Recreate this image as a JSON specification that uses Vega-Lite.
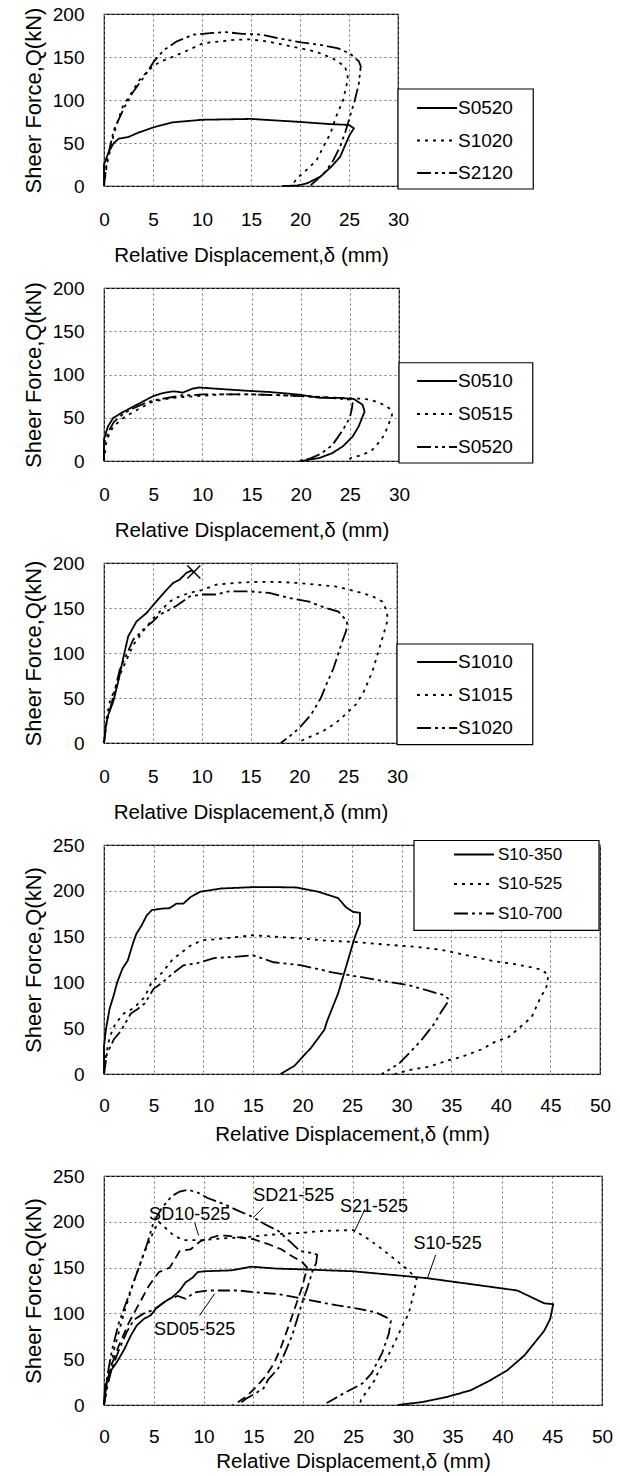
{
"$schema":"https://vega.github.io/schema/vega-lite/v6.json",
"background":"white",
"padding":{"left":21,"top":4,"right":5,"bottom":5},
"spacing":102,
"bounds":"flush",
"resolve":{"scale":{"strokeDash":"independent"},"legend":{"strokeDash":"independent"}},
"config":{
 "view":{"stroke":"#000","strokeWidth":1.2},
 "font":"Liberation Sans",
 "axis":{"grid":true,"gridColor":"#777","gridDash":[2,3],"gridWidth":1,"domain":false,"ticks":false,"tickSize":0,"labelFont":"Liberation Sans","labelFontSize":19,"labelColor":"#000","labelFlush":false,"titleFont":"Liberation Sans","titleFontWeight":"normal","titleColor":"#000"},
 "axisX":{"labelPadding":24,"titleFontSize":20.5,"titlePadding":16},
 "axisY":{"labelPadding":20,"titleFontSize":22,"titlePadding":7},
 "legend":{"orient":"none","title":null,"fillColor":"transparent","strokeColor":"transparent","padding":0,"symbolType":"stroke","symbolSize":1600,"symbolStrokeWidth":1.8,"symbolStrokeColor":"#000","labelFont":"Liberation Sans","labelFontSize":19,"labelColor":"#000","clipHeight":22,"rowPadding":10.5,"symbolOffset":0,"labelOffset":0}
},
"datasets":{
"p1box":[{"x":30,"x2":43.8,"y":-3.5,"y2":112.8}],
"p2box":[{"x":30,"x2":43.6,"y":-2.3,"y2":113.6}],
"p3box":[{"x":30,"x2":43.9,"y":-1.9,"y2":110}],
"p4box":[{"x":31.25,"x2":49.9,"y":156.7,"y2":254.9}],
"p1":[
{"s":"S0520","i":0,"x":0,"y":0},{"s":"S0520","i":1,"x":0,"y":25},{"s":"S0520","i":2,"x":0.5,"y":40},{"s":"S0520","i":3,"x":1,"y":50},{"s":"S0520","i":4,"x":1.5,"y":55},{"s":"S0520","i":5,"x":2.5,"y":57},{"s":"S0520","i":6,"x":3.5,"y":62},{"s":"S0520","i":7,"x":5,"y":68},{"s":"S0520","i":8,"x":7,"y":74},{"s":"S0520","i":9,"x":10,"y":77},{"s":"S0520","i":10,"x":15,"y":78},{"s":"S0520","i":11,"x":20,"y":74.5},{"s":"S0520","i":12,"x":23,"y":72},{"s":"S0520","i":13,"x":25,"y":71},{"s":"S0520","i":14,"x":25.5,"y":67},{"s":"S0520","i":15,"x":25.1,"y":60},{"s":"S0520","i":16,"x":24.7,"y":50},{"s":"S0520","i":17,"x":24.1,"y":34},{"s":"S0520","i":18,"x":23.2,"y":22.5},{"s":"S0520","i":19,"x":22.1,"y":11},{"s":"S0520","i":20,"x":20.7,"y":3},{"s":"S0520","i":21,"x":19.7,"y":0.5},{"s":"S0520","i":22,"x":18.2,"y":0},
{"s":"S1020","i":0,"x":0,"y":0},{"s":"S1020","i":1,"x":0.3,"y":25},{"s":"S1020","i":2,"x":0.7,"y":45},{"s":"S1020","i":3,"x":1,"y":60},{"s":"S1020","i":4,"x":1.4,"y":75},{"s":"S1020","i":5,"x":1.9,"y":92},{"s":"S1020","i":6,"x":2.9,"y":110},{"s":"S1020","i":7,"x":3.6,"y":123},{"s":"S1020","i":8,"x":4.4,"y":133},{"s":"S1020","i":9,"x":5.2,"y":141},{"s":"S1020","i":10,"x":6.1,"y":146},{"s":"S1020","i":11,"x":7.4,"y":152},{"s":"S1020","i":12,"x":8.6,"y":158},{"s":"S1020","i":13,"x":10.1,"y":166},{"s":"S1020","i":14,"x":11.7,"y":168},{"s":"S1020","i":15,"x":13.4,"y":170},{"s":"S1020","i":16,"x":14.9,"y":170.5},{"s":"S1020","i":17,"x":16.7,"y":168},{"s":"S1020","i":18,"x":18.4,"y":164},{"s":"S1020","i":19,"x":20.1,"y":160},{"s":"S1020","i":20,"x":21.7,"y":156},{"s":"S1020","i":21,"x":23.4,"y":148},{"s":"S1020","i":22,"x":24.6,"y":139},{"s":"S1020","i":23,"x":24.9,"y":125},{"s":"S1020","i":24,"x":24.4,"y":100},{"s":"S1020","i":25,"x":23.7,"y":81},{"s":"S1020","i":26,"x":23.1,"y":61},{"s":"S1020","i":27,"x":22.4,"y":46},{"s":"S1020","i":28,"x":21.7,"y":30},{"s":"S1020","i":29,"x":20.7,"y":19},{"s":"S1020","i":30,"x":19.7,"y":9},{"s":"S1020","i":31,"x":19.2,"y":1},{"s":"S1020","i":32,"x":19,"y":0},
{"s":"S2120","i":0,"x":0,"y":0},{"s":"S2120","i":1,"x":0.3,"y":30},{"s":"S2120","i":2,"x":0.7,"y":50},{"s":"S2120","i":3,"x":1,"y":65},{"s":"S2120","i":4,"x":2.1,"y":92},{"s":"S2120","i":5,"x":3,"y":110},{"s":"S2120","i":6,"x":4.1,"y":127},{"s":"S2120","i":7,"x":5.1,"y":145},{"s":"S2120","i":8,"x":6.1,"y":158},{"s":"S2120","i":9,"x":7.4,"y":168},{"s":"S2120","i":10,"x":9.1,"y":176},{"s":"S2120","i":11,"x":11.1,"y":178},{"s":"S2120","i":12,"x":12.4,"y":179},{"s":"S2120","i":13,"x":14.1,"y":177},{"s":"S2120","i":14,"x":16.1,"y":176},{"s":"S2120","i":15,"x":18.1,"y":171},{"s":"S2120","i":16,"x":20.1,"y":167},{"s":"S2120","i":17,"x":22.1,"y":164},{"s":"S2120","i":18,"x":23.9,"y":160},{"s":"S2120","i":19,"x":25.1,"y":154},{"s":"S2120","i":20,"x":26,"y":145},{"s":"S2120","i":21,"x":26.2,"y":139},{"s":"S2120","i":22,"x":26,"y":119},{"s":"S2120","i":23,"x":25.6,"y":100},{"s":"S2120","i":24,"x":25.1,"y":81},{"s":"S2120","i":25,"x":24.6,"y":62},{"s":"S2120","i":26,"x":24.1,"y":46},{"s":"S2120","i":27,"x":23.4,"y":30},{"s":"S2120","i":28,"x":22.7,"y":18},{"s":"S2120","i":29,"x":21.8,"y":8},{"s":"S2120","i":30,"x":21.2,"y":2},{"s":"S2120","i":31,"x":21,"y":0}
],
"p2":[
{"s":"S0510","i":0,"x":0,"y":0},{"s":"S0510","i":1,"x":0,"y":25},{"s":"S0510","i":2,"x":0.4,"y":40},{"s":"S0510","i":3,"x":0.95,"y":50},{"s":"S0510","i":4,"x":2,"y":57},{"s":"S0510","i":5,"x":3,"y":63},{"s":"S0510","i":6,"x":4,"y":69},{"s":"S0510","i":7,"x":5,"y":75},{"s":"S0510","i":8,"x":6,"y":78.6},{"s":"S0510","i":9,"x":7,"y":80.5},{"s":"S0510","i":10,"x":7.5,"y":80},{"s":"S0510","i":11,"x":8,"y":79},{"s":"S0510","i":12,"x":9,"y":83.6},{"s":"S0510","i":13,"x":9.7,"y":85},{"s":"S0510","i":14,"x":10.9,"y":84},{"s":"S0510","i":15,"x":12.8,"y":82.5},{"s":"S0510","i":16,"x":14.8,"y":81},{"s":"S0510","i":17,"x":16.8,"y":79.8},{"s":"S0510","i":18,"x":19.9,"y":76.7},{"s":"S0510","i":19,"x":21.9,"y":73},{"s":"S0510","i":20,"x":23.9,"y":73},{"s":"S0510","i":21,"x":25.4,"y":71.7},{"s":"S0510","i":22,"x":26.3,"y":65},{"s":"S0510","i":23,"x":26.5,"y":57},{"s":"S0510","i":24,"x":25.9,"y":40},{"s":"S0510","i":25,"x":25.3,"y":28.5},{"s":"S0510","i":26,"x":24.3,"y":17},{"s":"S0510","i":27,"x":23.2,"y":9},{"s":"S0510","i":28,"x":21.9,"y":3.5},{"s":"S0510","i":29,"x":20.5,"y":0.8},{"s":"S0510","i":30,"x":20,"y":0},
{"s":"S0515","i":0,"x":0,"y":0},{"s":"S0515","i":1,"x":0.2,"y":20},{"s":"S0515","i":2,"x":0.5,"y":30},{"s":"S0515","i":3,"x":0.95,"y":40},{"s":"S0515","i":4,"x":2,"y":50},{"s":"S0515","i":5,"x":3,"y":57},{"s":"S0515","i":6,"x":4,"y":63},{"s":"S0515","i":7,"x":5,"y":69},{"s":"S0515","i":8,"x":6,"y":71},{"s":"S0515","i":9,"x":7,"y":73},{"s":"S0515","i":10,"x":8,"y":74},{"s":"S0515","i":11,"x":10,"y":75.5},{"s":"S0515","i":12,"x":12,"y":77},{"s":"S0515","i":13,"x":15,"y":77},{"s":"S0515","i":14,"x":18,"y":76},{"s":"S0515","i":15,"x":20,"y":75},{"s":"S0515","i":16,"x":22,"y":74},{"s":"S0515","i":17,"x":24,"y":73},{"s":"S0515","i":18,"x":26,"y":72},{"s":"S0515","i":19,"x":27,"y":71},{"s":"S0515","i":20,"x":28.1,"y":67},{"s":"S0515","i":21,"x":29,"y":61},{"s":"S0515","i":22,"x":29.3,"y":53.5},{"s":"S0515","i":23,"x":29,"y":44},{"s":"S0515","i":24,"x":28.5,"y":30},{"s":"S0515","i":25,"x":28,"y":22},{"s":"S0515","i":26,"x":27.3,"y":13},{"s":"S0515","i":27,"x":26.3,"y":7},{"s":"S0515","i":28,"x":25.1,"y":3.5},{"s":"S0515","i":29,"x":24.8,"y":0},
{"s":"S0520","i":0,"x":0,"y":0},{"s":"S0520","i":1,"x":0,"y":20},{"s":"S0520","i":2,"x":0.5,"y":35},{"s":"S0520","i":3,"x":1,"y":45},{"s":"S0520","i":4,"x":2,"y":55},{"s":"S0520","i":5,"x":3,"y":61},{"s":"S0520","i":6,"x":4,"y":66},{"s":"S0520","i":7,"x":5,"y":70},{"s":"S0520","i":8,"x":6,"y":72},{"s":"S0520","i":9,"x":7,"y":74},{"s":"S0520","i":10,"x":8,"y":76},{"s":"S0520","i":11,"x":9,"y":76},{"s":"S0520","i":12,"x":10,"y":77},{"s":"S0520","i":13,"x":12,"y":77},{"s":"S0520","i":14,"x":15,"y":77},{"s":"S0520","i":15,"x":18,"y":76},{"s":"S0520","i":16,"x":20,"y":75},{"s":"S0520","i":17,"x":22,"y":74},{"s":"S0520","i":18,"x":24,"y":72},{"s":"S0520","i":19,"x":25,"y":71},{"s":"S0520","i":20,"x":25.3,"y":68},{"s":"S0520","i":21,"x":25.2,"y":60},{"s":"S0520","i":22,"x":25,"y":50},{"s":"S0520","i":23,"x":24.3,"y":36},{"s":"S0520","i":24,"x":23.2,"y":18},{"s":"S0520","i":25,"x":22,"y":8},{"s":"S0520","i":26,"x":21,"y":3},{"s":"S0520","i":27,"x":19.8,"y":0}
],
"p3":[
{"s":"S1010","i":0,"x":0,"y":0},{"s":"S1010","i":1,"x":0.2,"y":20},{"s":"S1010","i":2,"x":0.44,"y":31.5},{"s":"S1010","i":3,"x":0.95,"y":46},{"s":"S1010","i":4,"x":1.46,"y":68.5},{"s":"S1010","i":5,"x":1.97,"y":94.4},{"s":"S1010","i":6,"x":2.48,"y":118.5},{"s":"S1010","i":7,"x":3.33,"y":135},{"s":"S1010","i":8,"x":4.35,"y":144.4},{"s":"S1010","i":9,"x":5.37,"y":157.4},{"s":"S1010","i":10,"x":6.39,"y":170},{"s":"S1010","i":11,"x":7.07,"y":177.8},{"s":"S1010","i":12,"x":7.75,"y":181.5},{"s":"S1010","i":13,"x":8.43,"y":189},{"s":"S1010","i":14,"x":8.94,"y":191.5},{"s":"S1010","i":15,"x":9.2,"y":190},
{"s":"S1015","i":0,"x":0,"y":0},{"s":"S1015","i":1,"x":0.3,"y":30},{"s":"S1015","i":2,"x":0.6,"y":46},{"s":"S1015","i":3,"x":1.2,"y":62},{"s":"S1015","i":4,"x":1.8,"y":80},{"s":"S1015","i":5,"x":2.5,"y":97},{"s":"S1015","i":6,"x":3,"y":109},{"s":"S1015","i":7,"x":4,"y":124},{"s":"S1015","i":8,"x":5,"y":138},{"s":"S1015","i":9,"x":6,"y":149},{"s":"S1015","i":10,"x":6.7,"y":157},{"s":"S1015","i":11,"x":7.75,"y":163},{"s":"S1015","i":12,"x":8.8,"y":167},{"s":"S1015","i":13,"x":10.1,"y":170},{"s":"S1015","i":14,"x":11.5,"y":176},{"s":"S1015","i":15,"x":13.5,"y":178},{"s":"S1015","i":16,"x":15.6,"y":179},{"s":"S1015","i":17,"x":17.6,"y":179},{"s":"S1015","i":18,"x":19.6,"y":178},{"s":"S1015","i":19,"x":21.7,"y":176},{"s":"S1015","i":20,"x":23.7,"y":174},{"s":"S1015","i":21,"x":25.8,"y":168.5},{"s":"S1015","i":22,"x":27.5,"y":163},{"s":"S1015","i":23,"x":28.5,"y":157},{"s":"S1015","i":24,"x":29,"y":146},{"s":"S1015","i":25,"x":29,"y":135},{"s":"S1015","i":26,"x":28.6,"y":120},{"s":"S1015","i":27,"x":28.1,"y":102},{"s":"S1015","i":28,"x":27.5,"y":80},{"s":"S1015","i":29,"x":26.6,"y":57},{"s":"S1015","i":30,"x":25.8,"y":43},{"s":"S1015","i":31,"x":24.7,"y":31.5},{"s":"S1015","i":32,"x":23.7,"y":22},{"s":"S1015","i":33,"x":22.4,"y":13},{"s":"S1015","i":34,"x":21.2,"y":7.4},{"s":"S1015","i":35,"x":20.1,"y":2},{"s":"S1015","i":36,"x":20,"y":0},
{"s":"S1020","i":0,"x":0,"y":0},{"s":"S1020","i":1,"x":0.3,"y":25},{"s":"S1020","i":2,"x":0.8,"y":45},{"s":"S1020","i":3,"x":1.6,"y":81},{"s":"S1020","i":4,"x":3,"y":115},{"s":"S1020","i":5,"x":3.5,"y":120},{"s":"S1020","i":6,"x":4,"y":126},{"s":"S1020","i":7,"x":5,"y":135},{"s":"S1020","i":8,"x":5.7,"y":142.6},{"s":"S1020","i":9,"x":6.7,"y":148},{"s":"S1020","i":10,"x":7.5,"y":153},{"s":"S1020","i":11,"x":8.8,"y":163},{"s":"S1020","i":12,"x":10.1,"y":165},{"s":"S1020","i":13,"x":11.5,"y":165},{"s":"S1020","i":14,"x":12.8,"y":168.5},{"s":"S1020","i":15,"x":14.9,"y":168.5},{"s":"S1020","i":16,"x":16.9,"y":166.7},{"s":"S1020","i":17,"x":19,"y":161},{"s":"S1020","i":18,"x":21,"y":157},{"s":"S1020","i":19,"x":22.7,"y":150},{"s":"S1020","i":20,"x":24,"y":146},{"s":"S1020","i":21,"x":24.9,"y":135},{"s":"S1020","i":22,"x":24.8,"y":125},{"s":"S1020","i":23,"x":24.4,"y":113},{"s":"S1020","i":24,"x":23.5,"y":83},{"s":"S1020","i":25,"x":22.9,"y":68.5},{"s":"S1020","i":26,"x":22.2,"y":50},{"s":"S1020","i":27,"x":21.2,"y":31.5},{"s":"S1020","i":28,"x":20,"y":16.7},{"s":"S1020","i":29,"x":19,"y":7.4},{"s":"S1020","i":30,"x":18.1,"y":0}
],
"p3x":[{"x":9.2,"y":190}],
"p4":[
{"s":"S10-350","i":0,"x":0,"y":0},{"s":"S10-350","i":1,"x":0,"y":30},{"s":"S10-350","i":2,"x":0.2,"y":49},{"s":"S10-350","i":3,"x":0.56,"y":71},{"s":"S10-350","i":4,"x":0.98,"y":86},{"s":"S10-350","i":5,"x":1.33,"y":100},{"s":"S10-350","i":6,"x":1.86,"y":115},{"s":"S10-350","i":7,"x":2.4,"y":124},{"s":"S10-350","i":8,"x":2.9,"y":142},{"s":"S10-350","i":9,"x":3.26,"y":153},{"s":"S10-350","i":10,"x":3.78,"y":162},{"s":"S10-350","i":11,"x":4.3,"y":173},{"s":"S10-350","i":12,"x":4.83,"y":179},{"s":"S10-350","i":13,"x":5.9,"y":180.6},{"s":"S10-350","i":14,"x":6.6,"y":181},{"s":"S10-350","i":15,"x":7.3,"y":186},{"s":"S10-350","i":16,"x":8,"y":186},{"s":"S10-350","i":17,"x":8.7,"y":193},{"s":"S10-350","i":18,"x":9.7,"y":199},{"s":"S10-350","i":19,"x":11.8,"y":202.5},{"s":"S10-350","i":20,"x":15,"y":204},{"s":"S10-350","i":21,"x":17.4,"y":204},{"s":"S10-350","i":22,"x":19.4,"y":203.6},{"s":"S10-350","i":23,"x":21.6,"y":199},{"s":"S10-350","i":24,"x":23.6,"y":192},{"s":"S10-350","i":25,"x":24.4,"y":182},{"s":"S10-350","i":26,"x":25.1,"y":177},{"s":"S10-350","i":27,"x":25.8,"y":176},{"s":"S10-350","i":28,"x":25.8,"y":164},{"s":"S10-350","i":29,"x":25.3,"y":150},{"s":"S10-350","i":30,"x":24.4,"y":117},{"s":"S10-350","i":31,"x":23.6,"y":88},{"s":"S10-350","i":32,"x":22.5,"y":58},{"s":"S10-350","i":33,"x":22.2,"y":48},{"s":"S10-350","i":34,"x":20.9,"y":29},{"s":"S10-350","i":35,"x":19.2,"y":9},{"s":"S10-350","i":36,"x":17.8,"y":0},
{"s":"S10-525","i":0,"x":0,"y":0},{"s":"S10-525","i":1,"x":0.2,"y":20},{"s":"S10-525","i":2,"x":0.56,"y":40},{"s":"S10-525","i":3,"x":1.15,"y":55},{"s":"S10-525","i":4,"x":2,"y":66},{"s":"S10-525","i":5,"x":3,"y":72},{"s":"S10-525","i":6,"x":4.1,"y":84},{"s":"S10-525","i":7,"x":4.8,"y":100},{"s":"S10-525","i":8,"x":5.9,"y":111},{"s":"S10-525","i":9,"x":6.9,"y":125},{"s":"S10-525","i":10,"x":8.7,"y":140},{"s":"S10-525","i":11,"x":9.9,"y":146},{"s":"S10-525","i":12,"x":12.2,"y":148},{"s":"S10-525","i":13,"x":15,"y":151.5},{"s":"S10-525","i":14,"x":17,"y":150},{"s":"S10-525","i":15,"x":19.9,"y":148},{"s":"S10-525","i":16,"x":22.5,"y":145.5},{"s":"S10-525","i":17,"x":25.5,"y":144},{"s":"S10-525","i":18,"x":28.7,"y":141},{"s":"S10-525","i":19,"x":31.3,"y":139},{"s":"S10-525","i":20,"x":34,"y":135.6},{"s":"S10-525","i":21,"x":36.4,"y":130},{"s":"S10-525","i":22,"x":38.1,"y":126},{"s":"S10-525","i":23,"x":39.4,"y":123},{"s":"S10-525","i":24,"x":41.4,"y":120},{"s":"S10-525","i":25,"x":42.8,"y":117},{"s":"S10-525","i":26,"x":44.1,"y":114},{"s":"S10-525","i":27,"x":44.8,"y":108},{"s":"S10-525","i":28,"x":44.6,"y":95},{"s":"S10-525","i":29,"x":43.9,"y":81},{"s":"S10-525","i":30,"x":43.1,"y":62},{"s":"S10-525","i":31,"x":41.6,"y":48},{"s":"S10-525","i":32,"x":40.8,"y":40.5},{"s":"S10-525","i":33,"x":39.4,"y":35},{"s":"S10-525","i":34,"x":38.1,"y":27},{"s":"S10-525","i":35,"x":36,"y":18.6},{"s":"S10-525","i":36,"x":34.7,"y":15},{"s":"S10-525","i":37,"x":32.7,"y":7.7},{"s":"S10-525","i":38,"x":31.3,"y":5.5},{"s":"S10-525","i":39,"x":30,"y":2},{"s":"S10-525","i":40,"x":29.3,"y":0},
{"s":"S10-700","i":0,"x":0,"y":0},{"s":"S10-700","i":1,"x":0.3,"y":22},{"s":"S10-700","i":2,"x":1,"y":38},{"s":"S10-700","i":3,"x":1.7,"y":47},{"s":"S10-700","i":4,"x":2.7,"y":66},{"s":"S10-700","i":5,"x":3.4,"y":71},{"s":"S10-700","i":6,"x":4.1,"y":77},{"s":"S10-700","i":7,"x":4.5,"y":84},{"s":"S10-700","i":8,"x":5,"y":93},{"s":"S10-700","i":9,"x":5.9,"y":100},{"s":"S10-700","i":10,"x":6.9,"y":109.5},{"s":"S10-700","i":11,"x":8,"y":118.6},{"s":"S10-700","i":12,"x":9.4,"y":121},{"s":"S10-700","i":13,"x":11.1,"y":126.6},{"s":"S10-700","i":14,"x":12.9,"y":127.7},{"s":"S10-700","i":15,"x":15,"y":129.6},{"s":"S10-700","i":16,"x":17.1,"y":122},{"s":"S10-700","i":17,"x":19.9,"y":118.6},{"s":"S10-700","i":18,"x":23,"y":111},{"s":"S10-700","i":19,"x":25.8,"y":106},{"s":"S10-700","i":20,"x":28,"y":101.7},{"s":"S10-700","i":21,"x":30.7,"y":97},{"s":"S10-700","i":22,"x":32,"y":93},{"s":"S10-700","i":23,"x":34.3,"y":86},{"s":"S10-700","i":24,"x":34.8,"y":81},{"s":"S10-700","i":25,"x":34,"y":68},{"s":"S10-700","i":26,"x":33.3,"y":55},{"s":"S10-700","i":27,"x":32,"y":37},{"s":"S10-700","i":28,"x":30.7,"y":22},{"s":"S10-700","i":29,"x":29.7,"y":11},{"s":"S10-700","i":30,"x":28.7,"y":4.4},{"s":"S10-700","i":31,"x":28,"y":0}
],
"p5":[
{"s":"S10-525","i":0,"x":0,"y":0},{"s":"S10-525","i":1,"x":0.1,"y":20},{"s":"S10-525","i":2,"x":0.6,"y":36},{"s":"S10-525","i":3,"x":1.3,"y":47},{"s":"S10-525","i":4,"x":2,"y":60},{"s":"S10-525","i":5,"x":2.7,"y":76},{"s":"S10-525","i":6,"x":3.3,"y":87},{"s":"S10-525","i":7,"x":4,"y":94},{"s":"S10-525","i":8,"x":4.7,"y":98},{"s":"S10-525","i":9,"x":5.2,"y":105},{"s":"S10-525","i":10,"x":6,"y":112},{"s":"S10-525","i":11,"x":6.9,"y":118},{"s":"S10-525","i":12,"x":7.6,"y":125},{"s":"S10-525","i":13,"x":8.2,"y":134},{"s":"S10-525","i":14,"x":8.9,"y":139},{"s":"S10-525","i":15,"x":9.4,"y":145},{"s":"S10-525","i":16,"x":10.1,"y":146},{"s":"S10-525","i":17,"x":12.8,"y":147},{"s":"S10-525","i":18,"x":14.8,"y":151},{"s":"S10-525","i":19,"x":17.2,"y":149},{"s":"S10-525","i":20,"x":20,"y":148},{"s":"S10-525","i":21,"x":25,"y":146},{"s":"S10-525","i":22,"x":30,"y":141},{"s":"S10-525","i":23,"x":32.4,"y":138.5},{"s":"S10-525","i":24,"x":36.8,"y":132},{"s":"S10-525","i":25,"x":41.5,"y":125},{"s":"S10-525","i":26,"x":44.2,"y":111},{"s":"S10-525","i":27,"x":45.1,"y":110},{"s":"S10-525","i":28,"x":44.8,"y":94},{"s":"S10-525","i":29,"x":44.2,"y":81},{"s":"S10-525","i":30,"x":42.2,"y":54},{"s":"S10-525","i":31,"x":40.5,"y":38},{"s":"S10-525","i":32,"x":38.8,"y":27},{"s":"S10-525","i":33,"x":36.8,"y":16},{"s":"S10-525","i":34,"x":34.4,"y":8.7},{"s":"S10-525","i":35,"x":32,"y":3.3},{"s":"S10-525","i":36,"x":29.5,"y":0},
{"s":"SD05-525","i":0,"x":0,"y":0},{"s":"SD05-525","i":1,"x":0.3,"y":20},{"s":"SD05-525","i":2,"x":0.8,"y":40},{"s":"SD05-525","i":3,"x":1.5,"y":60},{"s":"SD05-525","i":4,"x":2.3,"y":80},{"s":"SD05-525","i":5,"x":3,"y":93},{"s":"SD05-525","i":6,"x":4,"y":100},{"s":"SD05-525","i":7,"x":5,"y":104},{"s":"SD05-525","i":8,"x":6,"y":112},{"s":"SD05-525","i":9,"x":6.6,"y":116},{"s":"SD05-525","i":10,"x":7.4,"y":119},{"s":"SD05-525","i":11,"x":8.2,"y":116},{"s":"SD05-525","i":12,"x":9.1,"y":123},{"s":"SD05-525","i":13,"x":10.4,"y":125},{"s":"SD05-525","i":14,"x":11.5,"y":125},{"s":"SD05-525","i":15,"x":13.5,"y":125},{"s":"SD05-525","i":16,"x":15.2,"y":123},{"s":"SD05-525","i":17,"x":17.5,"y":121},{"s":"SD05-525","i":18,"x":20.9,"y":114},{"s":"SD05-525","i":19,"x":23.3,"y":109},{"s":"SD05-525","i":20,"x":25.6,"y":105},{"s":"SD05-525","i":21,"x":27.3,"y":101},{"s":"SD05-525","i":22,"x":28.3,"y":96},{"s":"SD05-525","i":23,"x":28.8,"y":92},{"s":"SD05-525","i":24,"x":28.6,"y":78},{"s":"SD05-525","i":25,"x":27.9,"y":56},{"s":"SD05-525","i":26,"x":27.4,"y":46},{"s":"SD05-525","i":27,"x":26.9,"y":35},{"s":"SD05-525","i":28,"x":26,"y":24},{"s":"SD05-525","i":29,"x":25.1,"y":18.5},{"s":"SD05-525","i":30,"x":24.1,"y":13},{"s":"SD05-525","i":31,"x":23,"y":6},{"s":"SD05-525","i":32,"x":22.2,"y":1.4},{"s":"SD05-525","i":33,"x":22,"y":0},
{"s":"SD10-525","i":0,"x":0,"y":0},{"s":"SD10-525","i":1,"x":0.3,"y":25},{"s":"SD10-525","i":2,"x":0.8,"y":45},{"s":"SD10-525","i":3,"x":1.5,"y":65},{"s":"SD10-525","i":4,"x":2.5,"y":90},{"s":"SD10-525","i":5,"x":3.5,"y":110},{"s":"SD10-525","i":6,"x":4.5,"y":130},{"s":"SD10-525","i":7,"x":5.5,"y":145},{"s":"SD10-525","i":8,"x":6.6,"y":150},{"s":"SD10-525","i":9,"x":7.6,"y":168},{"s":"SD10-525","i":10,"x":8.7,"y":170},{"s":"SD10-525","i":11,"x":9.7,"y":179},{"s":"SD10-525","i":12,"x":11.5,"y":185},{"s":"SD10-525","i":13,"x":12.2,"y":185},{"s":"SD10-525","i":14,"x":13.6,"y":183},{"s":"SD10-525","i":15,"x":15,"y":181},{"s":"SD10-525","i":16,"x":16.4,"y":176},{"s":"SD10-525","i":17,"x":17.8,"y":170},{"s":"SD10-525","i":18,"x":18.8,"y":163},{"s":"SD10-525","i":19,"x":19.9,"y":156},{"s":"SD10-525","i":20,"x":20.4,"y":150},{"s":"SD10-525","i":21,"x":19.9,"y":129},{"s":"SD10-525","i":22,"x":19.2,"y":107},{"s":"SD10-525","i":23,"x":18.5,"y":85},{"s":"SD10-525","i":24,"x":17.8,"y":64},{"s":"SD10-525","i":25,"x":17.1,"y":46},{"s":"SD10-525","i":26,"x":16.2,"y":31},{"s":"SD10-525","i":27,"x":15.3,"y":20},{"s":"SD10-525","i":28,"x":14.3,"y":9.4},{"s":"SD10-525","i":29,"x":13.2,"y":1.4},{"s":"SD10-525","i":30,"x":12.9,"y":0},
{"s":"SD21-525","i":0,"x":0,"y":0},{"s":"SD21-525","i":1,"x":0.3,"y":30},{"s":"SD21-525","i":2,"x":0.8,"y":60},{"s":"SD21-525","i":3,"x":1.5,"y":90},{"s":"SD21-525","i":4,"x":2.5,"y":120},{"s":"SD21-525","i":5,"x":3.5,"y":150},{"s":"SD21-525","i":6,"x":4.3,"y":175},{"s":"SD21-525","i":7,"x":5,"y":200},{"s":"SD21-525","i":8,"x":5.8,"y":215},{"s":"SD21-525","i":9,"x":6.8,"y":228},{"s":"SD21-525","i":10,"x":7.6,"y":233},{"s":"SD21-525","i":11,"x":8.4,"y":235},{"s":"SD21-525","i":12,"x":9.4,"y":232},{"s":"SD21-525","i":13,"x":10.4,"y":226},{"s":"SD21-525","i":14,"x":12.1,"y":219},{"s":"SD21-525","i":15,"x":13.5,"y":212},{"s":"SD21-525","i":16,"x":15,"y":205},{"s":"SD21-525","i":17,"x":16.2,"y":197},{"s":"SD21-525","i":18,"x":17.5,"y":190},{"s":"SD21-525","i":19,"x":18.7,"y":178},{"s":"SD21-525","i":20,"x":19.7,"y":168},{"s":"SD21-525","i":21,"x":20.9,"y":166},{"s":"SD21-525","i":22,"x":21.4,"y":164},{"s":"SD21-525","i":23,"x":21.3,"y":155},{"s":"SD21-525","i":24,"x":20.9,"y":145},{"s":"SD21-525","i":25,"x":20.4,"y":127},{"s":"SD21-525","i":26,"x":19.9,"y":112},{"s":"SD21-525","i":27,"x":19.4,"y":94},{"s":"SD21-525","i":28,"x":18.9,"y":76},{"s":"SD21-525","i":29,"x":18.2,"y":58},{"s":"SD21-525","i":30,"x":17.5,"y":40},{"s":"SD21-525","i":31,"x":16.5,"y":28},{"s":"SD21-525","i":32,"x":16,"y":18},{"s":"SD21-525","i":33,"x":15.2,"y":12.7},{"s":"SD21-525","i":34,"x":14.3,"y":7},{"s":"SD21-525","i":35,"x":13.7,"y":2},{"s":"SD21-525","i":36,"x":13.5,"y":0},
{"s":"S21-525","i":0,"x":0,"y":0},{"s":"S21-525","i":1,"x":0.5,"y":30},{"s":"S21-525","i":2,"x":1,"y":60},{"s":"S21-525","i":3,"x":2,"y":100},{"s":"S21-525","i":4,"x":3,"y":135},{"s":"S21-525","i":5,"x":4,"y":165},{"s":"S21-525","i":6,"x":5,"y":190},{"s":"S21-525","i":7,"x":5.5,"y":200},{"s":"S21-525","i":8,"x":6,"y":195},{"s":"S21-525","i":9,"x":7,"y":185},{"s":"S21-525","i":10,"x":8,"y":180},{"s":"S21-525","i":11,"x":10,"y":180},{"s":"S21-525","i":12,"x":12,"y":182},{"s":"S21-525","i":13,"x":14,"y":183},{"s":"S21-525","i":14,"x":16,"y":185},{"s":"S21-525","i":15,"x":18,"y":187},{"s":"S21-525","i":16,"x":20,"y":188},{"s":"S21-525","i":17,"x":22,"y":190},{"s":"S21-525","i":18,"x":25,"y":191},{"s":"S21-525","i":19,"x":26.3,"y":183},{"s":"S21-525","i":20,"x":27.7,"y":172},{"s":"S21-525","i":21,"x":29.2,"y":159},{"s":"S21-525","i":22,"x":30.4,"y":148.5},{"s":"S21-525","i":23,"x":31.4,"y":138},{"s":"S21-525","i":24,"x":31.1,"y":122},{"s":"S21-525","i":25,"x":30.6,"y":100},{"s":"S21-525","i":26,"x":29.9,"y":85},{"s":"S21-525","i":27,"x":29,"y":64},{"s":"S21-525","i":28,"x":28.3,"y":49},{"s":"S21-525","i":29,"x":27.6,"y":38},{"s":"S21-525","i":30,"x":27.2,"y":27.5},{"s":"S21-525","i":31,"x":26.5,"y":16.6},{"s":"S21-525","i":32,"x":25.8,"y":5.8},{"s":"S21-525","i":33,"x":25.7,"y":0}
],
"p5t":[
{"t":"SD21-525","x":19.05,"y":228},{"t":"S21-525","x":27.1,"y":216.7},{"t":"SD10-525","x":8.6,"y":207},{"t":"S10-525","x":34.5,"y":175.6},{"t":"SD05-525","x":9.1,"y":81.5}
],
"p5l":[
{"x":16.0,"y":215.6,"x2":15.0,"y2":204.7},{"x":26.2,"y":213.8,"x2":25.1,"y2":188.4},{"x":9.1,"y":199,"x2":9.5,"y2":185},{"x":33.3,"y":164,"x2":32.5,"y2":139},{"x":9.6,"y":97.8,"x2":11.1,"y2":121.4}
]
},
"vconcat":[
{
 "width":294,"height":172,
 "layer":[
 {
  "data":{"name":"p1box"},
  "mark":{"type":"rect","fill":"#fff","stroke":"#000","strokeWidth":1.2},
  "encoding":{
   "x":{"field":"x","type":"quantitative","title":"Relative Displacement,δ (mm)","scale":{"domain":[0,30],"nice":false},"axis":{"values":[0,5,10,15,20,25,30]}},
   "y":{"field":"y","type":"quantitative","title":"Sheer Force,Q(kN)","scale":{"domain":[0,200],"nice":false},"axis":{"values":[0,50,100,150,200]}},
   "x2":{"field":"x2"},"y2":{"field":"y2"}
  }
 },
 {
  "data":{"name":"p1"},
  "mark":{"type":"line","strokeWidth":1.8,"color":"#000"},
  "encoding":{
   "x":{"field":"x","type":"quantitative","title":"Relative Displacement,δ (mm)","scale":{"domain":[0,30],"nice":false}},
   "y":{"field":"y","type":"quantitative","title":"Sheer Force,Q(kN)","scale":{"domain":[0,200],"nice":false}},
   "order":{"field":"i","type":"quantitative"},
   "strokeDash":{"field":"s","type":"nominal","scale":{"domain":["S0520","S1020","S2120"],"range":[[1,0],[3,5],[14,4,3,4,3,4]]},"legend":{"legendX":312,"legendY":83}}
  }
 }
 ]
},
{
 "width":295,"height":173,
 "layer":[
 {
  "data":{"name":"p2box"},
  "mark":{"type":"rect","fill":"#fff","stroke":"#000","strokeWidth":1.2},
  "encoding":{
   "x":{"field":"x","type":"quantitative","title":"Relative Displacement,δ (mm)","scale":{"domain":[0,30],"nice":false},"axis":{"values":[0,5,10,15,20,25,30]}},
   "y":{"field":"y","type":"quantitative","title":"Sheer Force,Q(kN)","scale":{"domain":[0,200],"nice":false},"axis":{"values":[0,50,100,150,200]}},
   "x2":{"field":"x2"},"y2":{"field":"y2"}
  }
 },
 {
  "data":{"name":"p2"},
  "mark":{"type":"line","strokeWidth":1.8,"color":"#000"},
  "encoding":{
   "x":{"field":"x","type":"quantitative","title":"Relative Displacement,δ (mm)","scale":{"domain":[0,30],"nice":false}},
   "y":{"field":"y","type":"quantitative","title":"Sheer Force,Q(kN)","scale":{"domain":[0,200],"nice":false}},
   "order":{"field":"i","type":"quantitative"},
   "strokeDash":{"field":"s","type":"nominal","scale":{"domain":["S0510","S0515","S0520"],"range":[[1,0],[3,5],[14,4,3,4,3,4]]},"legend":{"legendX":312,"legendY":82,"rowPadding":11}}
  }
 }
 ]
},
{
 "width":293,"height":180,
 "layer":[
 {
  "data":{"name":"p3box"},
  "mark":{"type":"rect","fill":"#fff","stroke":"#000","strokeWidth":1.2},
  "encoding":{
   "x":{"field":"x","type":"quantitative","title":"Relative Displacement,δ (mm)","scale":{"domain":[0,30],"nice":false},"axis":{"values":[0,5,10,15,20,25,30]}},
   "y":{"field":"y","type":"quantitative","title":"Sheer Force,Q(kN)","scale":{"domain":[0,200],"nice":false},"axis":{"values":[0,50,100,150,200]}},
   "x2":{"field":"x2"},"y2":{"field":"y2"}
  }
 },
 {
  "data":{"name":"p3"},
  "mark":{"type":"line","strokeWidth":1.8,"color":"#000"},
  "encoding":{
   "x":{"field":"x","type":"quantitative","title":"Relative Displacement,δ (mm)","scale":{"domain":[0,30],"nice":false}},
   "y":{"field":"y","type":"quantitative","title":"Sheer Force,Q(kN)","scale":{"domain":[0,200],"nice":false}},
   "order":{"field":"i","type":"quantitative"},
   "strokeDash":{"field":"s","type":"nominal","scale":{"domain":["S1010","S1015","S1020"],"range":[[1,0],[3,5],[14,4,3,4,3,4]]},"legend":{"legendX":312,"legendY":88,"rowPadding":11}}
  }
 },
 {
  "data":{"name":"p3x"},
  "mark":{"type":"point","shape":"M-1,-1L1,1M1,-1L-1,1","size":169,"filled":false,"stroke":"#000","strokeWidth":1.5,"opacity":1},
  "encoding":{
   "x":{"field":"x","type":"quantitative","title":"Relative Displacement,δ (mm)","scale":{"domain":[0,30],"nice":false}},
   "y":{"field":"y","type":"quantitative","title":"Sheer Force,Q(kN)","scale":{"domain":[0,200],"nice":false}}
  }
 }
 ]
},
{
 "width":496,"height":229,
 "layer":[
 {
  "data":{"name":"p4box"},
  "mark":{"type":"rect","fill":"#fff","stroke":"#000","strokeWidth":1.2},
  "encoding":{
   "x":{"field":"x","type":"quantitative","title":"Relative Displacement,δ (mm)","scale":{"domain":[0,50],"nice":false},"axis":{"values":[0,5,10,15,20,25,30,35,40,45,50],"labelPadding":22,"titlePadding":9}},
   "y":{"field":"y","type":"quantitative","title":"Sheer Force,Q(kN)","scale":{"domain":[0,250],"nice":false},"axis":{"values":[0,50,100,150,200,250]}},
   "x2":{"field":"x2"},
   "y2":{"field":"y2"}
  }
 },
 {
  "data":{"name":"p4"},
  "mark":{"type":"line","strokeWidth":1.8,"color":"#000"},
  "encoding":{
   "x":{"field":"x","type":"quantitative","title":"Relative Displacement,δ (mm)","scale":{"domain":[0,50],"nice":false}},
   "y":{"field":"y","type":"quantitative","title":"Sheer Force,Q(kN)","scale":{"domain":[0,250],"nice":false}},
   "order":{"field":"i","type":"quantitative"},
   "strokeDash":{"field":"s","type":"nominal","scale":{"domain":["S10-350","S10-525","S10-700"],"range":[[1,0],[3,5],[14,4,3,4,3,4]]},"legend":{"legendX":349,"legendY":-1.5,"labelFontSize":17,"rowPadding":7.5,"labelOffset":3}}
  }
 }
 ]
},
{
 "width":498,"height":229,
 "layer":[
 {
  "data":{"name":"p5"},
  "mark":{"type":"line","strokeWidth":1.8,"color":"#000"},
  "encoding":{
   "x":{"field":"x","type":"quantitative","title":"Relative Displacement,δ (mm)","scale":{"domain":[0,50],"nice":false},"axis":{"values":[0,5,10,15,20,25,30,35,40,45,50],"labelPadding":22,"titlePadding":5}},
   "y":{"field":"y","type":"quantitative","title":"Sheer Force,Q(kN)","scale":{"domain":[0,250],"nice":false},"axis":{"values":[0,50,100,150,200,250]}},
   "order":{"field":"i","type":"quantitative"},
   "strokeDash":{"field":"s","type":"nominal","scale":{"domain":["S10-525","SD05-525","SD10-525","SD21-525","S21-525"],"range":[[1,0],[12,4,3,4],[9,5],[14,4,3,4,3,4],[3,5]]},"legend":null}
  }
 },
 {
  "data":{"name":"p5l"},
  "mark":{"type":"rule","strokeWidth":1,"color":"#000"},
  "encoding":{
   "x":{"field":"x","type":"quantitative","title":"Relative Displacement,δ (mm)","scale":{"domain":[0,50],"nice":false}},
   "y":{"field":"y","type":"quantitative","title":"Sheer Force,Q(kN)","scale":{"domain":[0,250],"nice":false}},
   "x2":{"field":"x2"},
   "y2":{"field":"y2"}
  }
 },
 {
  "data":{"name":"p5t"},
  "mark":{"type":"text","fontSize":18,"font":"Liberation Sans","color":"#000","align":"center","baseline":"middle"},
  "encoding":{
   "x":{"field":"x","type":"quantitative","title":"Relative Displacement,δ (mm)","scale":{"domain":[0,50],"nice":false}},
   "y":{"field":"y","type":"quantitative","title":"Sheer Force,Q(kN)","scale":{"domain":[0,250],"nice":false}},
   "text":{"field":"t"}
  }
 }
 ]
}
]
}
